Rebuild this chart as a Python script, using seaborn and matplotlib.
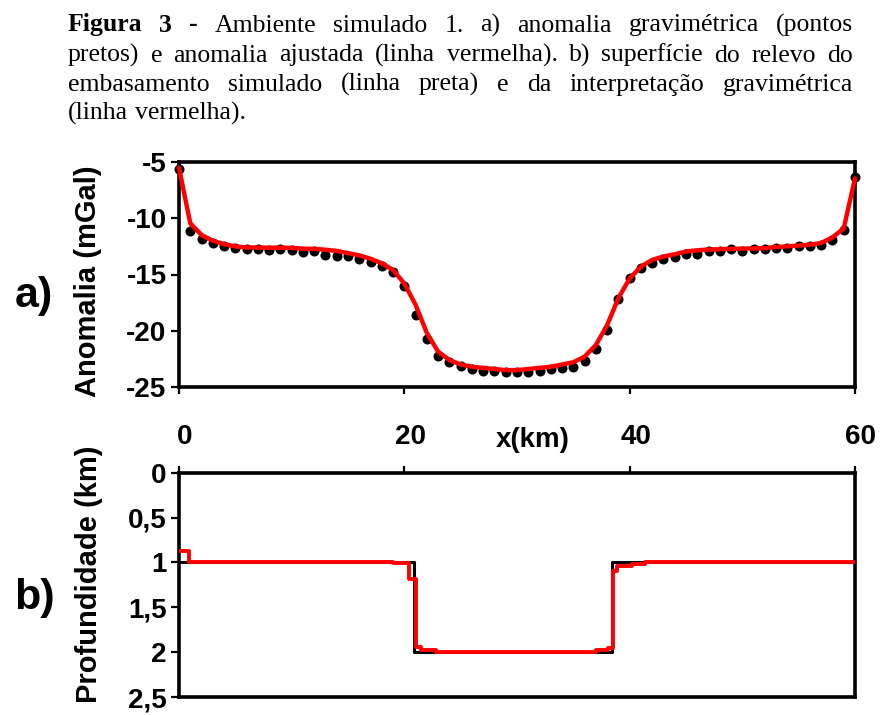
import numpy as np
import pandas as pd
import matplotlib
matplotlib.use("Agg")
import matplotlib.pyplot as plt
import matplotlib.transforms as mtransforms
import seaborn as sns

# ---- data -------------------------------------------------------------
x_km = list(range(0, 61))

# observed gravity anomaly (mGal), one station per km
anom_obs = [-5.6, -11.13, -11.84, -12.23, -12.44, -12.6, -12.73, -12.73, -12.82, -12.73,
            -12.82, -13.03, -12.87, -13.3, -13.35, -13.35, -13.65, -13.86, -14.2, -14.78,
            -16.02, -18.6, -20.76, -22.2, -22.75, -23.13, -23.4, -23.6, -23.6, -23.65,
            -23.7, -23.7, -23.6, -23.4, -23.3, -23.2, -22.66, -21.65, -19.93, -17.2,
            -15.35, -14.45, -14.0, -13.6, -13.44, -13.18, -13.18, -12.88, -12.88, -12.77,
            -12.88, -12.77, -12.74, -12.6, -12.6, -12.5, -12.47, -12.4, -11.93, -11.04,
            -6.36]

# fitted anomaly (mGal)
anom_fit = [-5.5, -10.45, -11.49, -12.0, -12.3, -12.5, -12.6, -12.6, -12.62, -12.62,
            -12.63, -12.7, -12.72, -12.8, -12.9, -13.1, -13.3, -13.6, -14.0, -14.6,
            -15.8, -17.7, -20.2, -21.86, -22.6, -23.0, -23.2, -23.3, -23.4, -23.5,
            -23.5, -23.4, -23.3, -23.2, -23.0, -22.8, -22.3, -21.27, -19.5, -17.1,
            -15.35, -14.3, -13.7, -13.4, -13.2, -12.95, -12.85, -12.78, -12.75, -12.72,
            -12.7, -12.68, -12.65, -12.55, -12.5, -12.42, -12.35, -12.2, -11.7, -10.9,
            -6.45]

# simulated basement relief (step model): left edges and depth (km)
model_x = [0, 20.9, 38.4, 60]
model_depth = [1.0, 2.0, 1.0, 1.0]

# interpreted basement relief: left edges and depth (km)
interp_x = [0, 0.9, 19.0, 20.4, 21.0, 21.5, 22.8, 37.0, 38.1, 38.5, 38.9, 40.2, 41.4, 60]
interp_depth = [0.87, 1.0, 1.01, 1.18, 1.94, 1.98, 2.0, 1.98, 1.95, 1.1, 1.04, 1.02, 1.0, 1.0]

anom_ticks = [-25, -20, -15, -10, -5]
depth_ticks = [0, 0.5, 1, 1.5, 2, 2.5]
depth_ticklabels = ["0", "0,5", "1", "1,5", "2", "2,5"]
x_ticks = [0, 20, 40, 60]

caption_lines = [
    [("Figura", "bold"), ("3", "bold"), ("-", "bold"), ("Ambiente", "normal"),
     ("simulado", "normal"), ("1.", "normal"), ("a)", "normal"), ("anomalia", "normal"),
     ("gravimétrica", "normal"), ("(pontos", "normal")],
    [(w, "normal") for w in "pretos) e anomalia ajustada (linha vermelha). b) superfície do relevo do".split()],
    [(w, "normal") for w in "embasamento simulado (linha preta) e da interpretação gravimétrica".split()],
    [(w, "normal") for w in "(linha vermelha).".split()],
]

# ---- style ------------------------------------------------------------
sns.set_theme(style="white")
plt.rcParams["font.family"] = ["Liberation Sans", "DejaVu Sans"]
plt.rcParams["font.weight"] = "bold"
for key in ("text.color", "axes.labelcolor", "xtick.color", "ytick.color"):
    plt.rcParams[key] = "black"

W, H, DPI = 883, 715, 100
fig = plt.figure(figsize=(W / DPI, H / DPI), dpi=DPI)
fig.patch.set_facecolor("white")

def fig_box(left, top, right, bottom):
    return [left / W, 1 - bottom / H, (right - left) / W, (bottom - top) / H]

ax_a = fig.add_axes(fig_box(179, 162, 855, 387))
ax_b = fig.add_axes(fig_box(179, 472.7, 855, 697))

TICK_FS = 20
LABEL_FS = 21

df_a = pd.DataFrame({"x": x_km, "obs": anom_obs, "fit": anom_fit})

# ---- panel a: gravity anomaly ------------------------------------------
sns.scatterplot(data=df_a, x="x", y="obs", ax=ax_a, color="black", s=52,
                edgecolor="black", linewidth=0, zorder=3, clip_on=False, legend=False)
sns.lineplot(data=df_a, x="x", y="fit", ax=ax_a, color="#ff0000", linewidth=3.2,
             zorder=4, clip_on=False, legend=False)
ax_a.set_xlim(0, 60)
ax_a.set_ylim(-25, -5)
ax_a.set_yticks(anom_ticks)
ax_a.set_yticklabels([str(v) for v in anom_ticks])
ax_a.set_xticks(x_ticks)
ax_a.tick_params(axis="x", bottom=True, top=False, labelbottom=False,
                 direction="out", length=5, width=1.6, color="black")
ax_a.tick_params(axis="y", left=True, right=False, direction="out", length=6,
                 width=1.6, color="black", labelsize=TICK_FS, pad=3, labelcolor="black")
ax_a.set_xlabel("")
ax_a.set_ylabel("Anomalia (mGal)", fontsize=LABEL_FS, fontweight="bold", color="black")
ax_a.yaxis.set_label_coords(-0.1346, 0.47)
ax_a.yaxis.label.set_va("center")

# ---- panel b: basement depth -------------------------------------------
df_model = pd.DataFrame({"x": model_x, "depth": model_depth})
df_interp = pd.DataFrame({"x": interp_x, "depth": interp_depth})
sns.lineplot(data=df_model, x="x", y="depth", ax=ax_b, color="black", linewidth=2.2,
             drawstyle="steps-post", zorder=3, legend=False)
sns.lineplot(data=df_interp, x="x", y="depth", ax=ax_b, color="#ff0000", linewidth=2.8,
             drawstyle="steps-post", zorder=4, legend=False)
ax_b.set_xlim(0, 60)
ax_b.set_ylim(2.5, 0)
ax_b.set_yticks(depth_ticks)
ax_b.set_yticklabels(depth_ticklabels)
ax_b.set_xticks(x_ticks)
ax_b.set_xticklabels([str(v) for v in x_ticks])
ax_b.xaxis.set_ticks_position("top")
ax_b.tick_params(axis="x", top=True, bottom=False, labeltop=True, labelbottom=False,
                 direction="out", length=5, width=1.6, color="black",
                 labelsize=TICK_FS, pad=11, labelcolor="black")
ax_b.tick_params(axis="y", left=True, right=False, direction="out", length=6,
                 width=1.6, color="black", labelsize=TICK_FS, pad=3, labelcolor="black")
shift = mtransforms.ScaledTranslation(6 / DPI, 0, fig.dpi_scale_trans)
for lab in ax_b.get_xticklabels():
    lab.set_transform(lab.get_transform() + shift)
ax_b.set_xlabel("x(km)", fontsize=TICK_FS, fontweight="bold", color="black")
ax_b.xaxis.set_label_position("top")
ax_b.xaxis.set_label_coords((533 - 179) / 676, 1 + (472.7 - 440) / 224.3)
ax_b.xaxis.label.set_va("center")
ax_b.set_ylabel("Profundidade (km)", fontsize=LABEL_FS, fontweight="bold", color="black")
ax_b.yaxis.set_label_coords(-0.133, 0.547)
ax_b.yaxis.label.set_va("center")

for ax in (ax_a, ax_b):
    ax.set_facecolor("white")
    for sp in ax.spines.values():
        sp.set_visible(True)
        sp.set_color("black")
        sp.set_linewidth(2.6)
    for lab in ax.get_yticklabels() + ax.get_xticklabels():
        lab.set_fontweight("bold")
        lab.set_color("black")

# panel letters
fig.text(34 / W, 1 - 296 / H, "a)", fontsize=31, fontweight="bold", ha="center",
         va="center", color="black")
fig.text(34 / W, 1 - 598 / H, "b)", fontsize=31, fontweight="bold", ha="center",
         va="center", color="black")

# ---- justified caption -------------------------------------------------
CAP_FONT = ["Liberation Serif", "DejaVu Serif"]
cap_left, cap_right = 68, 853
baselines = [31.5, 61.5, 91.0, 119.5]

fig.canvas.draw()
renderer = fig.canvas.get_renderer()

cap_fs = 18.5
while True:
    texts_all, widths_all = [], []
    for line, base in zip(caption_lines, baselines):
        texts = [fig.text(0, 1 - base / H, w, family=CAP_FONT, fontsize=cap_fs,
                          fontweight=wt, ha="left", va="baseline", color="black")
                 for w, wt in line]
        widths = [t.get_window_extent(renderer).width for t in texts]
        texts_all.append(texts)
        widths_all.append(widths)
    min_gap = cap_fs * 0.2 * DPI / 72
    fits = all(sum(wd) + min_gap * (len(wd) - 1) <= cap_right - cap_left
               for wd in widths_all)
    if fits or cap_fs < 12:
        break
    for texts in texts_all:
        for t in texts:
            t.remove()
    cap_fs -= 0.25

for i, (texts, widths) in enumerate(zip(texts_all, widths_all)):
    if i == len(texts_all) - 1:
        gap = cap_fs * 0.25 * DPI / 72
    else:
        gap = (cap_right - cap_left - sum(widths)) / (len(texts) - 1)
    xpos = cap_left
    for t, wd in zip(texts, widths):
        t.set_x(xpos / W)
        xpos += wd + gap

fig.savefig("out.png", dpi=DPI, facecolor="white")
